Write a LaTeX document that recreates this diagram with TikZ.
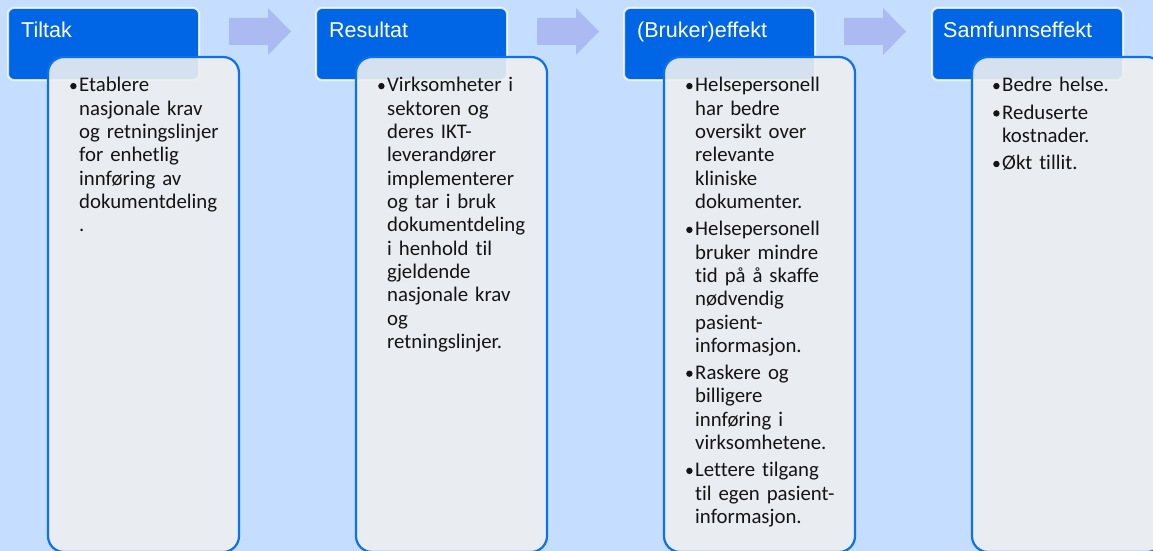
\documentclass[tikz,border=0pt]{standalone}
\usepackage{fontspec}
\setmainfont{Carlito}[Ligatures=NoCommon]
\newfontfamily\hdrfont{Liberation Sans}
\definecolor{bgblue}{RGB}{197,222,255}
\definecolor{hdrblue}{RGB}{0,102,230}
\definecolor{edgeblue}{RGB}{12,112,240}
\definecolor{boxfill}{RGB}{237,239,240}
\definecolor{arrowblue}{RGB}{172,186,242}
\definecolor{ink}{RGB}{20,20,20}
% one bulleted paragraph with a hanging indent; lines are broken with \nl
\newcommand{\nl}{\newline}
\newcommand{\bul}[1]{\hangindent=9pt\hangafter=1\noindent
  \makebox[9pt][l]{\tikz[baseline=0pt]\fill[ink] (3pt,5.9pt) circle (3.2pt);}#1\par}
\tikzset{
  hdrbox/.style={draw=white, draw opacity=0.8, line width=2pt, fill=hdrblue,
    rounded corners=6pt},
  bodybox/.style={draw=edgeblue, line width=2.2pt, fill=boxfill, fill opacity=0.9,
    rounded corners=16pt},
  hdrtext/.style={anchor=base west, inner sep=0pt, text=white,
    font=\hdrfont\fontsize{21.5}{24}\selectfont},
  bodytext/.style={anchor=base west, inner sep=0pt, text=ink, text width=165pt,
    font=\fontsize{20.8}{23.3}\selectfont\raggedright},
  blockarrow/.style={fill=arrowblue}
}
\begin{document}
\begin{tikzpicture}[x=1pt,y=-1pt]
\useasboundingbox (0,0) rectangle (1153,551);
\fill[bgblue] (0,0) rectangle (1153,551);
\begin{scope}
\clip (0,0) rectangle (1153,551);
% block arrows between the stages
\foreach \ax in {229,537,844}{
  \fill[blockarrow] (\ax,18) -- (\ax+39,18) -- (\ax+39,8) -- (\ax+62,31.5)
    -- (\ax+39,55) -- (\ax+39,45) -- (\ax,45) -- cycle;
}
% stage headers and their boxes
\foreach \i/\hx in {1/8,2/316,3/624,4/932}{
  \draw[hdrbox] (\hx,8) rectangle (\hx+191,80);
  \path (\hx,8) coordinate (h\i);
}
\foreach \i/\hx in {1/8,2/316,3/624,4/932}{
  \draw[bodybox] (\hx+40,57) rectangle (\hx+231,552);
  \path (\hx+40,57) coordinate (b\i);
}
\end{scope}
\node[hdrtext] (t1) at (21,37.5) {Tiltak};
\node[hdrtext] (t2) at (329,37.5) {Resultat};
\node[hdrtext] (t3) at (637,37.5) {(Bruker)effekt};
\node[hdrtext] (t4) at (943,37.5) {Samfunnseffekt};
\node[bodytext] (x1) at (70,92) {\bul{Etablere\nl nasjonale krav\nl og retningslinjer\nl for enhetlig\nl innføring av\nl dokumentdeling\nl .}};
\node[bodytext] (x2) at (378,92) {\bul{Virksomheter i\nl sektoren og\nl deres IKT-\nl leverandører\nl implementerer\nl og tar i bruk\nl dokumentdeling\nl i henhold til\nl gjeldende\nl nasjonale krav\nl og\nl retningslinjer.}};
\node[bodytext] (x3) at (686,92) {\setlength{\parskip}{4pt}%
\bul{Helsepersonell\nl har bedre\nl oversikt over\nl relevante\nl kliniske\nl dokumenter.}%
\bul{Helsepersonell\nl bruker mindre\nl tid på å skaffe\nl nødvendig\nl pasient-\nl informasjon.}%
\bul{Raskere og\nl billigere\nl innføring i\nl virksomhetene.}%
\bul{Lettere tilgang\nl til egen pasient-\nl informasjon.}};
\node[bodytext] (x4) at (993,92) {\setlength{\parskip}{4pt}%
\bul{Bedre helse.}%
\bul{Reduserte\nl kostnader.}%
\bul{Økt tillit.}};
\end{tikzpicture}
\end{document}
